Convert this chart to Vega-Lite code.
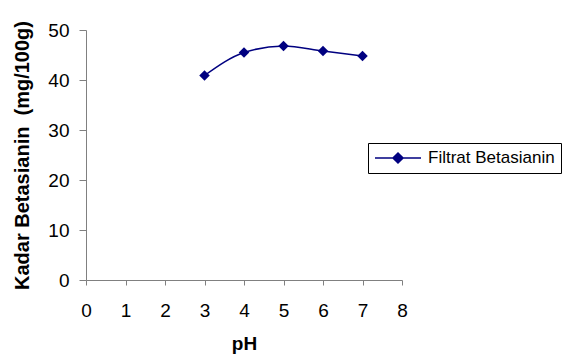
{
  "$schema": "https://vega.github.io/schema/vega-lite/v6.json",
  "autosize": "none",
  "width": 316,
  "height": 250,
  "padding": {"left": 86, "top": 30, "right": 160, "bottom": 75},
  "background": "white",
  "config": {
    "view": {"stroke": null},
    "font": "Liberation Sans",
    "axis": {"grid": false, "domainColor": "#808080", "tickColor": "#808080", "labelColor": "black", "labelFont": "Liberation Sans", "labelFontSize": 19, "titleFont": "Liberation Sans", "titleFontWeight": "bold", "titleColor": "black"}
  },
  "data": {"values": [
    {"pH": 3, "kadar": 40.9, "series": "Filtrat Betasianin"},
    {"pH": 4, "kadar": 45.5, "series": "Filtrat Betasianin"},
    {"pH": 5, "kadar": 46.8, "series": "Filtrat Betasianin"},
    {"pH": 6, "kadar": 45.8, "series": "Filtrat Betasianin"},
    {"pH": 7, "kadar": 44.8, "series": "Filtrat Betasianin"}
  ]},
  "mark": {"type": "line", "interpolate": "monotone", "strokeWidth": 1.5, "point": {"shape": "diamond", "size": 110, "filled": true, "opacity": 1}},
  "encoding": {
    "x": {"field": "pH", "type": "quantitative", "scale": {"domain": [0, 8], "nice": false}, "axis": {"values": [0,1,2,3,4,5,6,7,8], "tickSize": 5, "labelPadding": 16, "title": "pH", "titleFontSize": 19, "titlePadding": 14, "labelFlush": false}},
    "y": {"field": "kadar", "type": "quantitative", "scale": {"domain": [0, 50], "nice": false}, "axis": {"values": [0,10,20,30,40,50], "tickSize": 7, "labelPadding": 10, "title": "Kadar Betasianin\u00a0\u00a0(mg/100g)", "titleFontSize": 20, "titlePadding": 15, "labelFlush": false}},
    "color": {"field": "series", "type": "nominal", "scale": {"range": ["#000080"]}, "legend": {"title": null, "orient": "none", "legendX": 282, "legendY": 113, "strokeColor": "black", "fillColor": "white", "padding": 6, "clipHeight": 18, "labelFontSize": 17, "labelColor": "black", "symbolType": "M-1,0H1M0,-0.22L0.22,0L0,0.22L-0.22,0Z", "symbolSize": 2116, "symbolStrokeWidth": 1.5, "symbolFillColor": "#000080", "symbolStrokeColor": "#000080", "labelOffset": 6}}
  }
}
